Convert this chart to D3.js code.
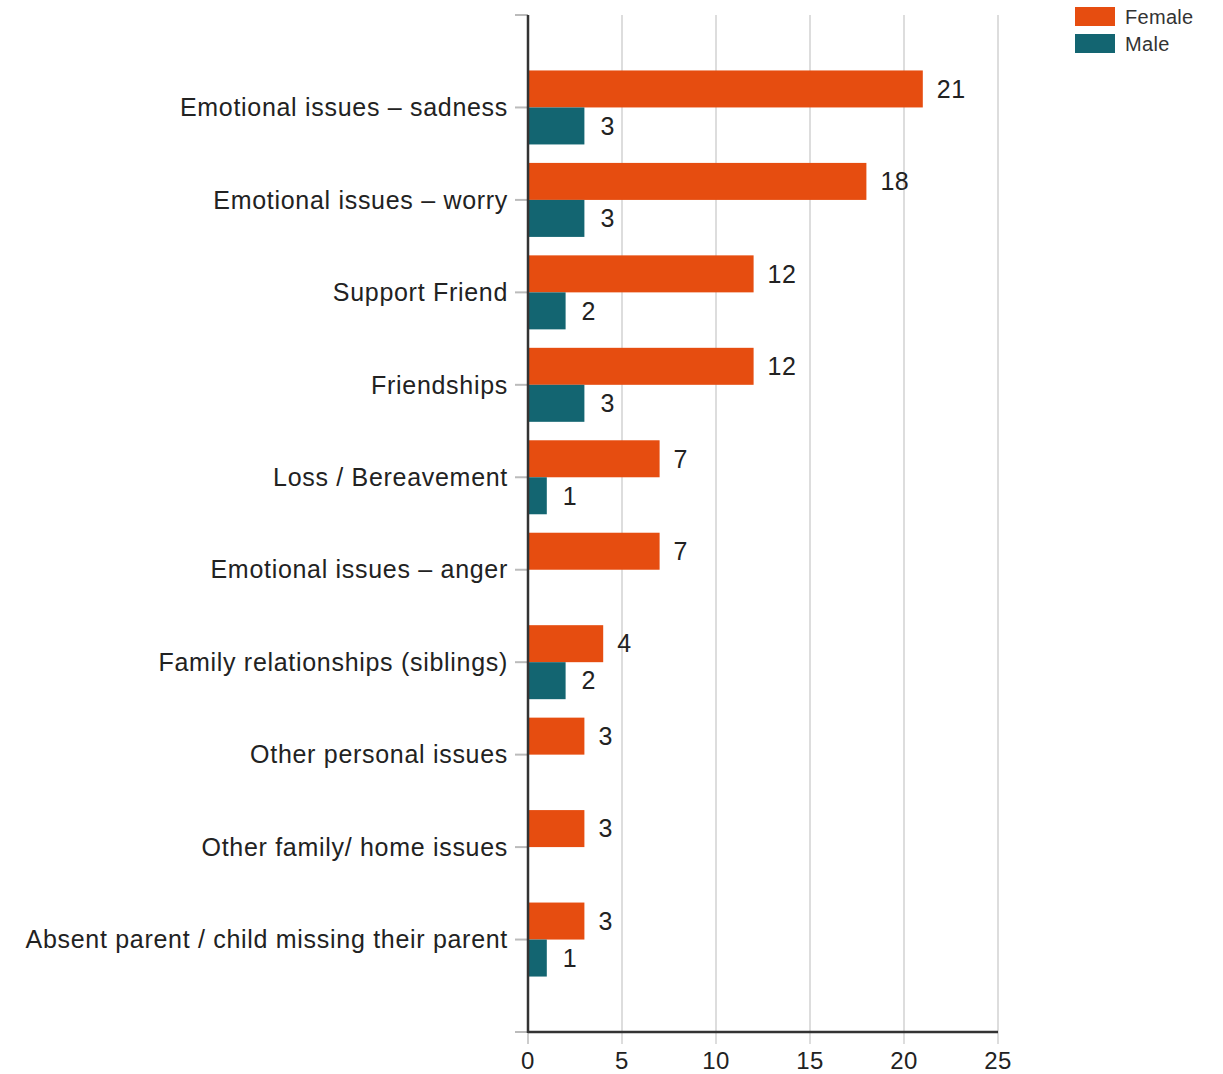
<!DOCTYPE html>
<html lang="en">
<head>
    <meta charset="UTF-8">
    <script src="https://d3js.org/d3.v7.min.js"></script>
    <style>
        body { margin: 0; background: #fff; font-family: "Liberation Sans", Arial, sans-serif; }
        .cat-label { font-size: 25px; letter-spacing: 0.7px; fill: #222; }
        .val-label { font-size: 25px; letter-spacing: 0.5px; fill: #222; }
        .x-label { font-size: 24px; letter-spacing: 0.5px; fill: #222; }
        .legend-text { font-size: 20px; letter-spacing: 0.3px; fill: #333; }
    </style>
</head>
<body>
    <svg id="chart" width="1223" height="1074"></svg>

    <script>
        const categories = [
            "Emotional issues \u2013 sadness",
            "Emotional issues \u2013 worry",
            "Support Friend",
            "Friendships",
            "Loss / Bereavement",
            "Emotional issues \u2013 anger",
            "Family relationships (siblings)",
            "Other personal issues",
            "Other family/ home issues",
            "Absent parent / child missing their parent"
        ];
        const femaleValues = [21, 18, 12, 12, 7, 7, 4, 3, 3, 3];
        const maleValues = [3, 3, 2, 3, 1, null, 2, null, null, 1];
        const xTicks = [0, 5, 10, 15, 20, 25];
        const seriesNames = ["Female", "Male"];
        const seriesColors = ["#e64d10", "#136571"];

        const plotL = 528, plotR = 998, plotT = 15, plotB = 1032;

        const svg = d3.select("#chart");

        const x = d3.scaleLinear().domain([0, 25]).range([plotL, plotR]);
        const y = d3.scalePoint().domain(categories).range([plotT, plotB]).padding(1);
        const barH = 37;

        // grid
        svg.append("g").selectAll("line")
            .data(xTicks.slice(1))
            .enter().append("line")
            .attr("x1", d => x(d)).attr("x2", d => x(d))
            .attr("y1", plotT).attr("y2", plotB + 12)
            .attr("stroke", "#ddd").attr("stroke-width", 2);

        // bottom tick of zero
        svg.append("line")
            .attr("x1", x(0)).attr("x2", x(0))
            .attr("y1", plotB).attr("y2", plotB + 12)
            .attr("stroke", "#ccc").attr("stroke-width", 2);

        // category ticks
        svg.append("g").selectAll("line")
            .data(categories)
            .enter().append("line")
            .attr("x1", plotL - 13).attr("x2", plotL)
            .attr("y1", d => y(d)).attr("y2", d => y(d))
            .attr("stroke", "#bbb").attr("stroke-width", 2);
        svg.append("line")
            .attr("x1", plotL - 13).attr("x2", plotL)
            .attr("y1", plotT).attr("y2", plotT)
            .attr("stroke", "#bbb").attr("stroke-width", 2);
        svg.append("line")
            .attr("x1", plotL - 13).attr("x2", plotL)
            .attr("y1", plotB).attr("y2", plotB)
            .attr("stroke", "#bbb").attr("stroke-width", 2);

        // bars
        const rows = categories.map((c, i) => ({ c, f: femaleValues[i], m: maleValues[i] }));

        svg.append("g").selectAll("rect")
            .data(rows)
            .enter().append("rect")
            .attr("x", x(0))
            .attr("y", d => y(d.c) - barH)
            .attr("width", d => x(d.f) - x(0))
            .attr("height", barH)
            .attr("fill", seriesColors[0]);

        svg.append("g").selectAll("rect")
            .data(rows.filter(d => d.m != null))
            .enter().append("rect")
            .attr("x", x(0))
            .attr("y", d => y(d.c))
            .attr("width", d => x(d.m) - x(0))
            .attr("height", barH)
            .attr("fill", seriesColors[1]);

        // value labels
        svg.append("g").selectAll("text")
            .data(rows)
            .enter().append("text")
            .attr("class", "val-label")
            .attr("x", d => x(d.f) + 14)
            .attr("y", d => y(d.c) - barH / 2)
            .attr("dy", "0.35em")
            .text(d => d.f);

        svg.append("g").selectAll("text")
            .data(rows.filter(d => d.m != null))
            .enter().append("text")
            .attr("class", "val-label")
            .attr("x", d => x(d.m) + 16)
            .attr("y", d => y(d.c) + barH / 2)
            .attr("dy", "0.35em")
            .text(d => d.m);

        // category labels
        svg.append("g").selectAll("text")
            .data(categories)
            .enter().append("text")
            .attr("class", "cat-label")
            .attr("x", plotL - 20)
            .attr("y", d => y(d))
            .attr("dy", "0.35em")
            .attr("text-anchor", "end")
            .text(d => d);

        // axis lines
        svg.append("line")
            .attr("x1", plotL).attr("x2", plotL)
            .attr("y1", plotT).attr("y2", plotB + 1)
            .attr("stroke", "#333").attr("stroke-width", 2.5);
        svg.append("line")
            .attr("x1", plotL).attr("x2", plotR)
            .attr("y1", plotB).attr("y2", plotB)
            .attr("stroke", "#333").attr("stroke-width", 2.5);

        // x tick labels
        svg.append("g").selectAll("text")
            .data(xTicks)
            .enter().append("text")
            .attr("class", "x-label")
            .attr("x", d => x(d))
            .attr("y", plotB + 37)
            .attr("text-anchor", "middle")
            .text(d => d);

        // legend
        const legend = svg.append("g").attr("transform", "translate(1075,7)");
        seriesNames.forEach((name, i) => {
            legend.append("rect")
                .attr("x", 0).attr("y", i * 27)
                .attr("width", 40).attr("height", 19)
                .attr("fill", seriesColors[i]);
            legend.append("text")
                .attr("class", "legend-text")
                .attr("x", 50).attr("y", i * 27 + 10)
                .attr("dy", "0.35em")
                .text(name);
        });
    </script>
</body>
</html>
